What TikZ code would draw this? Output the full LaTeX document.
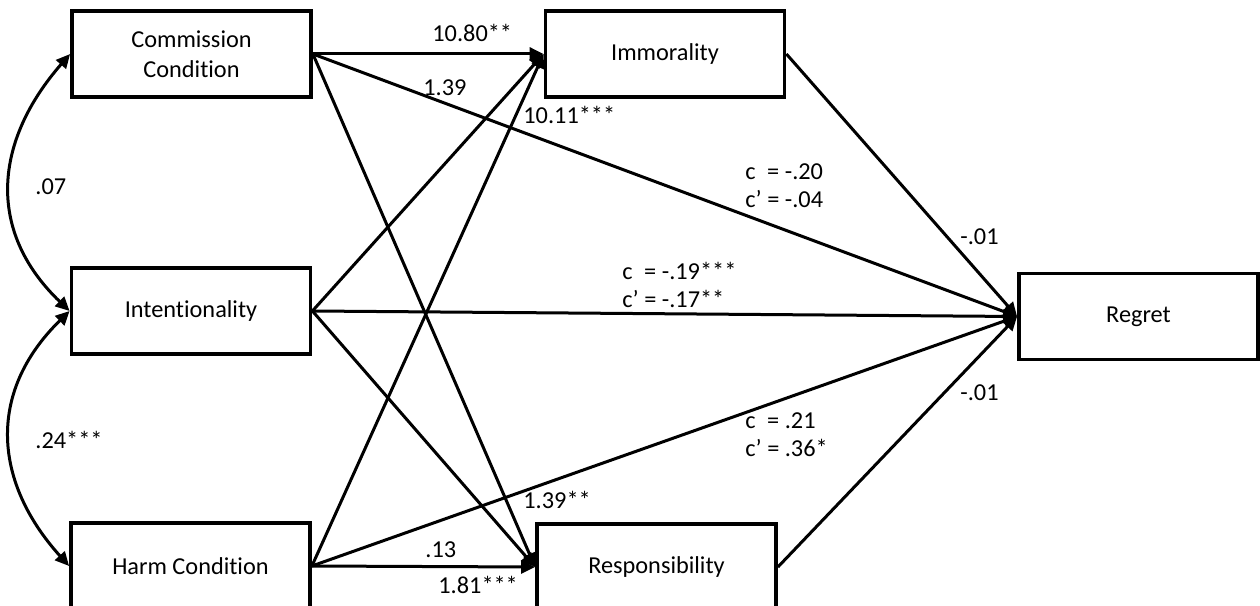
\documentclass[tikz,border=0pt]{standalone}
\usepackage{fontspec}
\setmainfont{Carlito}[Ligatures={NoCommon}]
\usetikzlibrary{arrows.meta}
\newcommand\figfont{\fontsize{12.2}{14.2}\selectfont}
\begin{document}
\begin{tikzpicture}[x=0.5bp,y=-0.5bp,
  box/.style={draw, line width=1.9bp, rectangle, minimum width=119.5bp,
    minimum height=43bp, inner sep=0pt, align=center, font=\figfont},
  link/.style={line width=1.5bp, -{Triangle[length=7bp,width=6.5bp]}},
  cov/.style={line width=1.5bp,
    {Triangle[length=7bp,width=6.5bp]}-{Triangle[length=7bp,width=6.5bp]}},
  lab/.style={font=\figfont, inner sep=0pt, anchor=west, align=left}]
\useasboundingbox (0,0) rectangle (1260,606);
\clip (0,0) rectangle (1260,606);

% variables
\node[box] (com)  at (191.5,54)  {Commission\\[0.8pt]Condition};
\node[box] (imm)  at (665,54)    {Immorality};
\node[box] (int)  at (191,311)   {Intentionality};
\node[box] (harm) at (190.5,566) {Harm Condition};
\node[box] (resp) at (656.5,567) {Responsibility};
\node[box] (reg)  at (1138.5,316.5) {Regret};

% covariances between the predictors
\draw[cov] (com.west) .. controls (-5,140) and (-15,230) .. (int.west);
\draw[cov] (int.west) .. controls (-15,394) and (-5,484) .. (harm.west);

% paths to the mediators
\draw[link] (com.east)  -- (imm.west);
\draw[link] (int.east)  -- (imm.west);
\draw[link] (harm.east) -- (imm.west);
\draw[link] (com.east)  -- (resp.west);
\draw[link] (int.east)  -- (resp.west);
\draw[link] (harm.east) -- (resp.west);

% paths to the outcome
\draw[link] (com.east)  -- (reg.west);
\draw[link] (int.east)  -- (reg.west);
\draw[link] (harm.east) -- (reg.west);
\draw[link] (imm.east)  -- (reg.west);
\draw[link] (resp.east) -- (reg.west);

% coefficients
\node[lab] (l07)  at (35,187)  {.07};
\node[lab] (l24)  at (35,440)  {.24***};
\node[lab] (l1080) at (432,33) {10.80**};
\node[lab] (l139a) at (423,88) {1.39};
\node[lab] (l1011) at (523,115) {10.11***};
\node[lab] (lcom) at (745,186) {c\hphantom{’} = -.20\\c’ = -.04};
\node[lab] (lint) at (622,285) {c\hphantom{’} = -.19***\\c’ = -.17**};
\node[lab] (lharm) at (745,435) {c\hphantom{’} = .21\\c’ = .36*};
\node[lab] (limm) at (960,237) {-.01};
\node[lab] (lresp) at (960,393) {-.01};
\node[lab] (l139b) at (523,500) {1.39**};
\node[lab] (l13)  at (425,550) {.13};
\node[lab] (l181) at (438,585) {1.81***};
\end{tikzpicture}
\end{document}
